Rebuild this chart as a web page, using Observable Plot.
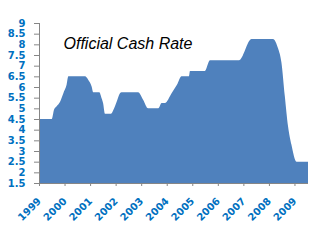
<!DOCTYPE html>
<html>
<head>
<meta charset="utf-8">
<script src="https://cdn.jsdelivr.net/npm/d3@7"></script>
<script src="https://cdn.jsdelivr.net/npm/@observablehq/plot@0.6"></script>
<style>
  html, body { margin: 0; padding: 0; background: #fff; }
  #chart svg { display: block; }
</style>
</head>
<body>
<div id="chart"></div>
<script>
const title = "Official Cash Rate";
// decimal-year positions and rate values
const years = [1999.00, 1999.50, 1999.59, 1999.69, 1999.82, 1999.95, 2000.08, 2000.15,
  2000.80, 2000.93, 2001.06, 2001.12, 2001.36, 2001.45, 2001.51, 2001.58, 2001.82,
  2001.91, 2002.04, 2002.17, 2002.23, 2002.88, 2003.08, 2003.27, 2003.67, 2003.80,
  2003.93, 2004.19, 2004.40, 2004.58, 2004.87, 2004.91, 2005.49, 2005.69, 2006.83,
  2007.32, 2008.16, 2008.36, 2008.49, 2008.62, 2008.75, 2008.88, 2009.08, 2009.53];
const rates = [4.5, 4.5, 4.95, 5.1, 5.3, 5.7, 6.1, 6.5,
  6.5, 6.33, 6.02, 5.75, 5.75, 5.47, 5.24, 4.75, 4.75,
  4.92, 5.31, 5.71, 5.75, 5.75, 5.39, 5.0, 5.0, 5.25,
  5.25, 5.71, 6.1, 6.5, 6.5, 6.75, 6.75, 7.25, 7.25,
  8.25, 8.25, 7.8, 7.15, 5.6, 4.15, 3.3, 2.5, 2.5];
const xTicks = [1999, 2000, 2001, 2002, 2003, 2004, 2005, 2006, 2007, 2008, 2009];
const yTicks = [1.5, 2, 2.5, 3, 3.5, 4, 4.5, 5, 5.5, 6, 6.5, 7, 7.5, 8, 8.5, 9];

const data = years.map((x, i) => ({x, y: rates[i]}));
const xDomain = [1999, 2009.53];
const yDomain = [1.5, 9];
const labelColor = "#0070C0";
const axisColor = "#868686";

const chart = Plot.plot({
  width: 330,
  height: 242,
  marginLeft: 39,
  marginRight: 22,
  marginTop: 23,
  marginBottom: 59,
  style: {fontFamily: "DejaVu Sans", fontSize: "10px", background: "#fff"},
  x: {domain: xDomain},
  y: {domain: yDomain},
  marks: [
    Plot.areaY(data, {x: "x", y: "y", fill: "#4F81BD", curve: "monotone-x", clip: true}),
    Plot.ruleY([yDomain[0]], {stroke: axisColor}),
    Plot.ruleX([xDomain[0]], {stroke: axisColor}),
    Plot.axisY({ticks: yTicks, tickSize: 5, tickPadding: 9, tickFormat: d => String(d),
      stroke: axisColor, fill: labelColor, fontWeight: "bold", fontSize: 10, label: null}),
    Plot.axisX({ticks: xTicks, tickSize: 3, tickPadding: 13, tickRotate: -45, tickFormat: d => String(d),
      stroke: axisColor, fill: labelColor, fontWeight: "bold", fontSize: 10, label: null}),
    Plot.text([title], {frameAnchor: "top-left", dx: 24, dy: 14, text: d => d,
      fontStyle: "italic", fontSize: 16, fontFamily: "Liberation Sans", fill: "black", textAnchor: "start"})
  ]
});
document.getElementById("chart").appendChild(chart);
</script>
</body>
</html>
